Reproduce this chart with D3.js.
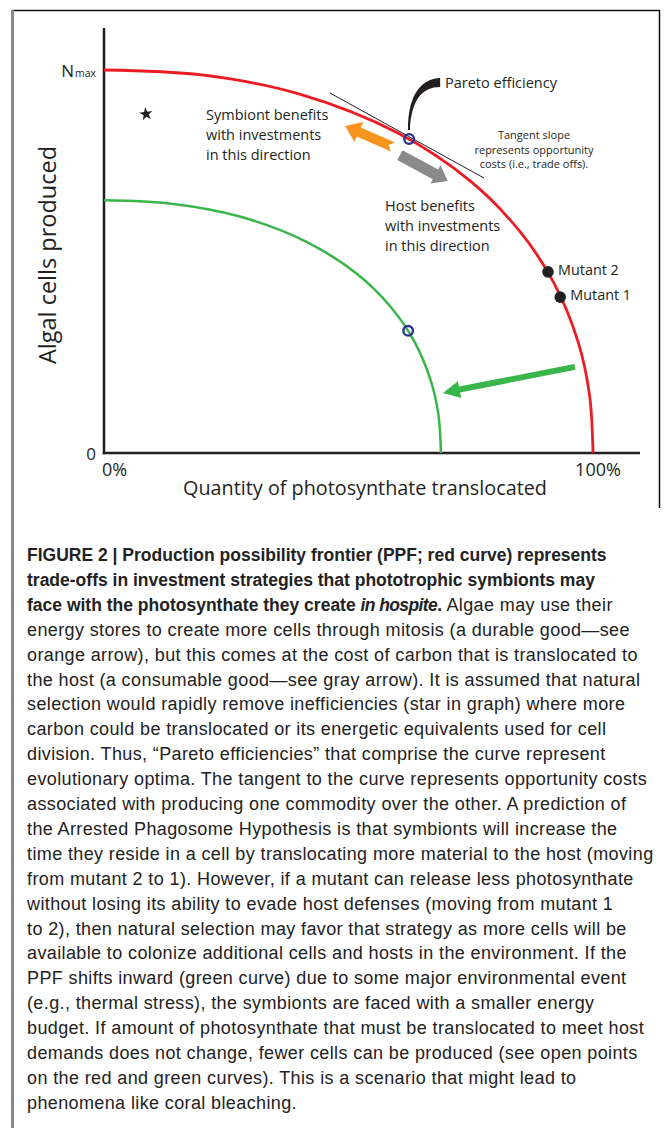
<!DOCTYPE html>
<html lang="en">
  <head>
    <meta charset="utf-8"/>
    <title>Production possibility frontier</title>
    <script src="https://d3js.org/d3.v7.min.js"></script>
    <style>
      body { margin: 0; background: #fff; }
      svg { display: block; }
      .lbl { font-family: "Open Sans", "Noto Sans", sans-serif; fill: #231f20; }
      .cap { font-family: "Liberation Sans", Arial, sans-serif; fill: #222; }
    </style>
  </head>
  <body>
    <div id="fig"></div>
    <script>
    // ---- data (x: % translocated, y: % of Nmax) ----
    var redCurve = [[0,100],[20,98.7],[40,93.7],[60,83.6],[75,70.9],[85,57.9],[92,44.4],[97,28.8],[99.3,15],[100,0]];
    var greenCurve = [[0,66],[13.8,65.1],[27.6,61.8],[41.3,55.2],[51.7,46.8],[58.6,38.2],[63.4,29.3],[66.8,19],[68.4,9.9],[68.9,0]];
    var openPoints = [[62.4,82.0],[62.2,31.9]];
    var mutants = [{name:"Mutant 2", x:90.8, y:47.3}, {name:"Mutant 1", x:93.3, y:40.7}];
    var star = [8.6, 88.5];
    var tangent = [[46.2,94.0],[77.7,71.8]];
    var xTicks = [{v:0, label:"0%"}, {v:100, label:"100%"}];
    var yTicks = [{v:0, label:"0"}, {v:100, label:"N", sub:"max"}];
    var arrows = [
      {from:[59.1,79.9], to:[49.3,85.4], color:"#f7941d", body:10, head:22, headL:15, notch:5},
      {from:[60.5,77.8], to:[70.3,71.0], color:"#8a8a8a", body:11, head:21, headL:14, notch:0},
      {from:[96.3,22.5], to:[69.3,15.7], color:"#39b54a", body:6, head:17, headL:17, notch:0}
    ];
    var symbiontText = ["Symbiont benefits","with investments","in this direction"];
    var hostText = ["Host benefits","with investments","in this direction"];
    var tangentText = ["Tangent slope","represents opportunity","costs (i.e., trade offs)."];

    var captionLines = [
      [["FIGURE 2 | Production possibility frontier (PPF; red curve) represents","b"]],
      [["trade-offs in investment strategies that phototrophic symbionts may","b"]],
      [["face with the photosynthate they create ","b"],["in hospite","bi"],[".","b"],[" Algae may use their","r"]],
      [["energy stores to create more cells through mitosis (a durable good\u2014see","r"]],
      [["orange arrow), but this comes at the cost of carbon that is translocated to","r"]],
      [["the host (a consumable good\u2014see gray arrow). It is assumed that natural","r"]],
      [["selection would rapidly remove inefficiencies (star in graph) where more","r"]],
      [["carbon could be translocated or its energetic equivalents used for cell","r"]],
      [["division. Thus, \u201cPareto efficiencies\u201d that comprise the curve represent","r"]],
      [["evolutionary optima. The tangent to the curve represents opportunity costs","r"]],
      [["associated with producing one commodity over the other. A prediction of","r"]],
      [["the Arrested Phagosome Hypothesis is that symbionts will increase the","r"]],
      [["time they reside in a cell by translocating more material to the host (moving","r"]],
      [["from mutant 2 to 1). However, if a mutant can release less photosynthate","r"]],
      [["without losing its ability to evade host defenses (moving from mutant 1","r"]],
      [["to 2), then natural selection may favor that strategy as more cells will be","r"]],
      [["available to colonize additional cells and hosts in the environment. If the","r"]],
      [["PPF shifts inward (green curve) due to some major environmental event","r"]],
      [["(e.g., thermal stress), the symbionts are faced with a smaller energy","r"]],
      [["budget. If amount of photosynthate that must be translocated to meet host","r"]],
      [["demands does not change, fewer cells can be produced (see open points","r"]],
      [["on the red and green curves). This is a scenario that might lead to","r"]],
      [["phenomena like coral bleaching.","r"]]
    ];

    var W = 671, H = 1128;
    var svg = d3.select("#fig").append("svg").attr("width", W).attr("height", H);

    // frame
    svg.append("path").attr("d", "M12,10.5H659.5V508").attr("fill", "none").attr("stroke", "#111").attr("stroke-width", 1.5);
    svg.append("rect").attr("x", 11).attr("y", 10).attr("width", 3).attr("height", H - 10).attr("fill", "#888");

    var x = d3.scaleLinear().domain([0, 100]).range([104, 593]);
    var y = d3.scaleLinear().domain([0, 100]).range([453, 70]);
    var ink = "#231f20";

    // axes
    svg.append("line").attr("x1", x(0)).attr("x2", x(0)).attr("y1", 28).attr("y2", y(0) + 1.2)
      .attr("stroke", ink).attr("stroke-width", 2.5);
    svg.append("line").attr("x1", x(0) - 1.2).attr("x2", 640).attr("y1", y(0)).attr("y2", y(0))
      .attr("stroke", ink).attr("stroke-width", 2.5);

    var line = d3.line().x(function(d){ return x(d[0]); }).y(function(d){ return y(d[1]); })
      .curve(d3.curveCatmullRom.alpha(0.5));
    svg.append("path").attr("d", line(greenCurve)).attr("fill", "none").attr("stroke", "#39b54a").attr("stroke-width", 2.5);
    svg.append("path").attr("d", line(redCurve)).attr("fill", "none").attr("stroke", "#ed1c24").attr("stroke-width", 2.8);

    // tick labels
    svg.selectAll(".xt").data(xTicks).enter().append("text").attr("class", "lbl")
      .attr("x", function(d){ return d.v === 0 ? x(d.v) - 2 : x(d.v) + 5; })
      .attr("y", 476).attr("font-size", 18)
      .attr("text-anchor", function(d){ return d.v === 0 ? "start" : "middle"; })
      .text(function(d){ return d.label; });
    var yt = svg.selectAll(".yt").data(yTicks).enter().append("text").attr("class", "lbl")
      .attr("x", 96).attr("y", function(d){ return y(d.v) + 7; }).attr("font-size", 17)
      .attr("text-anchor", "end");
    yt.append("tspan").text(function(d){ return d.label; });
    yt.filter(function(d){ return d.sub; }).append("tspan").attr("font-size", 10.5).attr("dx", 1)
      .text(function(d){ return d.sub; });

    svg.append("text").attr("class", "lbl").attr("x", 365).attr("y", 495).attr("font-size", 19.8)
      .attr("text-anchor", "middle").text("Quantity of photosynthate translocated");
    svg.append("text").attr("class", "lbl").attr("transform", "translate(56,255) rotate(-90)")
      .attr("font-size", 23.5).attr("text-anchor", "middle").text("Algal cells produced");

    // tangent line
    svg.append("line").attr("x1", x(tangent[0][0])).attr("y1", y(tangent[0][1]))
      .attr("x2", x(tangent[1][0])).attr("y2", y(tangent[1][1])).attr("stroke", ink).attr("stroke-width", 1);

    // block arrows
    function arrowPath(a) {
      var t0 = [x(a.from[0]), y(a.from[1])], t1 = [x(a.to[0]), y(a.to[1])];
      var dx = t1[0] - t0[0], dy = t1[1] - t0[1], len = Math.sqrt(dx*dx + dy*dy);
      var u = [dx/len, dy/len], n = [-u[1], u[0]];
      var nk = [t1[0] - u[0]*a.headL, t1[1] - u[1]*a.headL];
      function p(b, s) { return [b[0] + n[0]*s, b[1] + n[1]*s]; }
      var pts = [p(t0, a.body/2), p(nk, a.body/2), p(nk, a.head/2), t1, p(nk, -a.head/2), p(nk, -a.body/2), p(t0, -a.body/2)];
      if (a.notch) pts.push([t0[0] + u[0]*a.notch, t0[1] + u[1]*a.notch]);
      return "M" + pts.map(function(q){ return q[0].toFixed(1) + "," + q[1].toFixed(1); }).join("L") + "Z";
    }
    svg.selectAll(".arrow").data(arrows).enter().append("path")
      .attr("d", arrowPath).attr("fill", function(d){ return d.color; });

    // Pareto callout brush
    var P = [x(openPoints[0][0]), y(openPoints[0][1])];
    svg.append("path").attr("transform", "translate(" + P[0] + "," + P[1] + ")")
      .attr("d", "M31,-61C12,-60 -1,-45 -1.2,-9L0.8,-9C2,-39 13,-52 31,-52Z").attr("fill", ink);
    svg.append("text").attr("class", "lbl").attr("x", 445).attr("y", 88).attr("font-size", 14.5).text("Pareto efficiency");

    // open points
    svg.selectAll(".open").data(openPoints).enter().append("circle")
      .attr("cx", function(d){ return x(d[0]); }).attr("cy", function(d){ return y(d[1]); })
      .attr("r", 4.8).attr("fill", "none").attr("stroke", "#2e3192").attr("stroke-width", 2.4);

    // mutants
    svg.selectAll(".mut").data(mutants).enter().append("circle")
      .attr("cx", function(d){ return x(d.x); }).attr("cy", function(d){ return y(d.y); })
      .attr("r", 5.8).attr("fill", ink);
    svg.selectAll(".mutl").data(mutants).enter().append("text").attr("class", "lbl")
      .attr("x", function(d){ return x(d.x) + 10; }).attr("y", function(d){ return y(d.y) + 3; })
      .attr("font-size", 14.4).text(function(d){ return d.name; });

    // star
    svg.append("path").attr("d", d3.symbol(d3.symbolStar, 55)())
      .attr("transform", "translate(" + x(star[0]) + "," + y(star[1]) + ") rotate(-8)").attr("fill", ink);

    // annotations
    function block(lines, x0, y0, dy, size, anchor) {
      svg.append("g").selectAll("text").data(lines).enter().append("text").attr("class", "lbl")
        .attr("x", x0).attr("y", function(d, i){ return y0 + i*dy; })
        .attr("font-size", size).attr("text-anchor", anchor).text(function(d){ return d; });
    }
    block(symbiontText, 206, 120, 20, 14.5, "start");
    block(hostText, 385, 211, 20, 14.5, "start");
    block(tangentText, 534, 139, 14.5, 11, "middle");

    // caption
    var cap = svg.append("g").attr("transform", "translate(27,0)");
    captionLines.forEach(function(runs, i) {
      var t = cap.append("text").attr("class", "cap").attr("x", 0).attr("y", 561 + i*24.9);
      runs.forEach(function(r) {
        var s = t.append("tspan").text(r[0])
          .attr("font-weight", r[1] === "r" ? 400 : 700)
          .attr("font-style", r[1] === "bi" ? "italic" : "normal");
        if (r[1] === "r") s.attr("font-size", 18).attr("letter-spacing", 0.38);
        else s.attr("font-size", 17.5).attr("letter-spacing", r[1] === "bi" ? -0.6 : 0);
      });
    });
    </script>
  </body>
</html>
